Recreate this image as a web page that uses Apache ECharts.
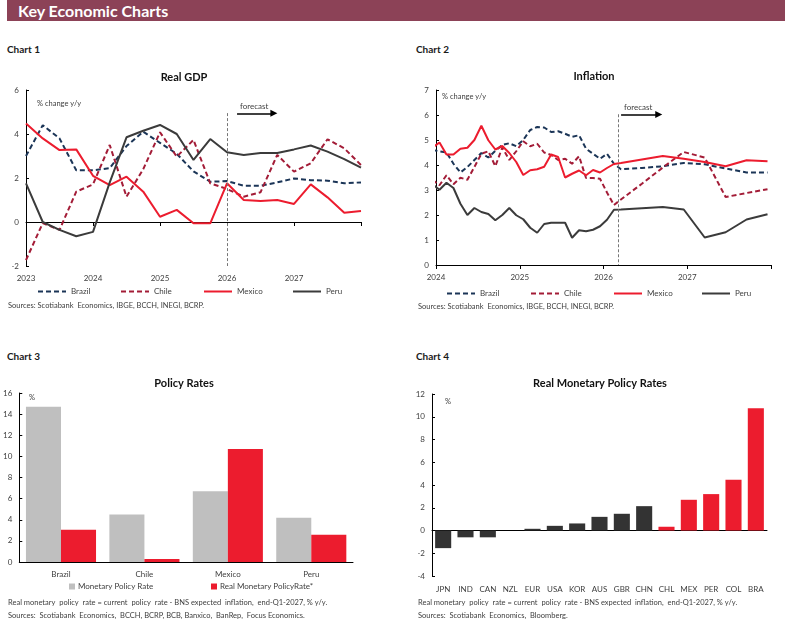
<!DOCTYPE html>
<html lang="en">
<head>
<meta charset="utf-8">
<title>Key Economic Charts</title>
<script src="https://cdn.jsdelivr.net/npm/echarts@6/dist/echarts.min.js"></script>
<style>
  body { margin: 0; background: #fff; }
  #page { position: relative; width: 785px; height: 626px; overflow: hidden; }
  .banner { position: absolute; left: 7px; top: 0; right: 0; height: 21px; background: #8c4257; color: #fff;
    font: bold 16px Lato, sans-serif; line-height: 21px; padding-left: 11px; }
  .chart_no { position: absolute; font: bold 10px Lato, sans-serif; line-height: 12px; color: #1a1a1a; }
  .graph { position: absolute; }
</style>
</head>
<body>
<div id="page">
  <div class="banner">Key Economic Charts</div>
  <div class="chart_no" style="left:7px;top:43px">Chart 1</div>
  <div class="chart_no" style="left:416px;top:43px">Chart 2</div>
  <div class="chart_no" style="left:7px;top:350px">Chart 3</div>
  <div class="chart_no" style="left:416px;top:350px">Chart 4</div>
  <div class="graph" id="chart1" style="left:0;top:60px;width:400px;height:260px"></div>
  <div class="graph" id="chart2" style="left:400px;top:60px;width:385px;height:260px"></div>
  <div class="graph" id="chart3" style="left:0;top:365px;width:400px;height:261px"></div>
  <div class="graph" id="chart4" style="left:400px;top:365px;width:385px;height:261px"></div>
</div>
<script>
var FONT = 'Lato, sans-serif';
var TXT = '#404040';
var NAVY = '#1b3557', DARK_RED = '#a31c37', RED = '#ec1c2e', CHARCOAL = '#3b3b3b', GREY = '#bfbfbf';

// chart 1 - real gdp, % y/y, quarterly
var gdpQuarters = ['2022Q4',
  '2023Q1', '2023Q2', '2023Q3', '2023Q4', '2024Q1', '2024Q2', '2024Q3', '2024Q4',
  '2025Q1', '2025Q2', '2025Q3', '2025Q4', '2026Q1', '2026Q2', '2026Q3', '2026Q4',
  '2027Q1', '2027Q2', '2027Q3', '2027Q4'];
var gdpBrazil = [3.0, 4.4, 3.8, 2.35, 2.35, 2.45, 3.45, 4.1, 3.6, 3.1, 2.3, 1.83, 1.86, 1.65, 1.65, 1.8, 1.98, 1.9, 1.88, 1.76, 1.8];
var gdpChile = [-1.73, -0.05, -0.36, 1.38, 1.71, 3.5, 1.15, 2.4, 4.08, 2.97, 3.73, 1.76, 1.5, 1.15, 1.35, 3.05, 2.29, 2.67, 3.76, 3.35, 2.59];
var gdpMexico = [4.48, 3.8, 3.27, 3.3, 2.1, 1.68, 2.06, 1.38, 0.24, 0.55, -0.06, -0.06, 1.76, 1.0, 0.95, 1.0, 0.82, 1.71, 1.12, 0.42, 0.5];
var gdpPeru = [1.76, 0, -0.36, -0.65, -0.45, 1.8, 3.85, 4.15, 4.41, 4.0, 2.82, 3.77, 3.17, 3.05, 3.14, 3.14, 3.3, 3.48, 3.2, 2.86, 2.47];
var gdpForecastFrom = 2026.0;

// chart 2 - inflation, % y/y, monthly actuals then quarterly forecast
var cpiHistFirst = '2023-12', cpiHistLast = '2026-02';
var cpiForecastMonths = ['2026-03', '2026-06', '2026-09', '2026-12', '2027-03', '2027-06', '2027-09', '2027-12'];
var cpiBrazil = [4.6, 4.55, 4.5, 4.05, 3.7, 3.92, 4.2, 4.48, 4.3, 4.57, 4.8, 4.87, 4.75,
  5.0, 5.4, 5.52, 5.5, 5.32, 5.35, 5.25, 5.13, 5.19, 4.65, 4.45, 4.25, 4.45, 4.05];
var cpiChile = [3.4, 3.19, 3.59, 3.23, 3.49, 3.41, 3.92, 4.45, 4.55, 3.95, 4.7, 4.2, 4.55,
  4.95, 4.75, 4.85, 4.5, 4.4, 4.2, 4.25, 4.05, 4.35, 3.48, 3.48, 3.45, 2.9, 2.4];
var cpiMexico = [4.7, 4.9, 4.42, 4.42, 4.65, 4.69, 5.0, 5.57, 4.99, 4.62, 4.76, 4.48, 4.12,
  3.6, 3.79, 3.83, 3.93, 4.42, 4.32, 3.5, 3.65, 3.78, 3.59, 3.8, 3.7, 3.88, 4.04];
var cpiPeru = [3.23, 3.01, 3.29, 3.08, 2.45, 2.0, 2.28, 2.12, 2.04, 1.79, 2.0, 2.28, 1.99,
  1.83, 1.49, 1.29, 1.64, 1.69, 1.69, 1.69, 1.09, 1.39, 1.35, 1.41, 1.55, 1.81, 2.21];
var cpiBrazilFc = [3.83, 3.88, 3.95, 4.08, 4.03, 3.86, 3.7, 3.7];
var cpiChileFc = [2.62, 3.25, 3.9, 4.52, 4.3, 2.72, 2.88, 3.03];
var cpiMexicoFc = [4.08, 4.22, 4.36, 4.25, 4.12, 3.95, 4.19, 4.15];
var cpiPeruFc = [2.22, 2.27, 2.32, 2.22, 1.1, 1.31, 1.82, 2.03];
var cpiForecastFrom = 2026.175;

// chart 3 - policy rates, %
var rateCountries = ['Brazil', 'Chile', 'Mexico', 'Peru'];
var policyRate = [14.7, 4.5, 6.7, 4.2];
var realPolicyRate = [3.06, 0.28, 10.7, 2.59];

// chart 4 - real monetary policy rates, %
var realCodes = ['JPN', 'IND', 'CAN', 'NZL', 'EUR', 'USA', 'KOR', 'AUS', 'GBR', 'CHN', 'CHL', 'MEX', 'PER', 'COL', 'BRA'];
var realRates = [-1.55, -0.6, -0.6, 0, 0.15, 0.41, 0.62, 1.2, 1.47, 2.14, 0.33, 2.7, 3.2, 4.46, 10.74];
var latamCodes = ['CHL', 'MEX', 'PER', 'COL', 'BRA'];

var graphs = [];

function quarterPos(q) {
  return +q.slice(0, 4) + +q.slice(5) / 4;
}
function monthPos(m) {
  return +m.slice(0, 4) + (+m.slice(5) - 0.5) / 12;
}
function monthsBetween(from, to) {
  var out = [], y = +from.slice(0, 4), m = +from.slice(5);
  var endY = +to.slice(0, 4), endM = +to.slice(5);
  while (y < endY || (y === endY && m <= endM)) {
    out.push(y + '-' + (m < 10 ? '0' + m : m));
    m++;
    if (m > 12) { m = 1; y++; }
  }
  return out;
}

function lineSeries(name, xs, ys, color, dashed) {
  return {
    name: name,
    type: 'line',
    symbol: 'none',
    data: ys.map(function (v, i) { return [xs[i], v]; }),
    lineStyle: { color: color, width: 2, type: dashed ? [5, 3] : 'solid' },
    itemStyle: { color: color },
  };
}

function labelText(x, y, text, opts) {
  opts = opts || {};
  return {
    type: 'text', x: x, y: y, silent: true,
    style: {
      text: text, fill: opts.color || TXT, fontSize: opts.size || 7.5, fontFamily: FONT,
      fontWeight: opts.bold ? 'bold' : 'normal',
      align: opts.align || 'left', verticalAlign: 'middle',
    },
  };
}

function valueY(min, max, step) {
  return {
    type: 'value', min: min, max: max, interval: step,
    axisLine: { show: true, onZero: false, lineStyle: { color: '#000', width: 1 } },
    axisTick: { show: true, inside: true, length: 3, lineStyle: { color: '#000' } },
    splitLine: { show: false },
    axisLabel: { color: TXT, fontSize: 8, fontFamily: FONT, margin: 7 },
  };
}

// x labels sit at the bottom, the axis line itself runs along zero
function yearLabelAxis(min, max) {
  return {
    type: 'value', min: min, max: max, interval: 1, position: 'bottom',
    axisLine: { show: false, onZero: false }, axisTick: { show: false }, splitLine: { show: false },
    axisLabel: {
      color: TXT, fontSize: 8, fontFamily: FONT, margin: 8,
      formatter: function (v) { return v === max ? '' : String(v); },
    },
  };
}
function yearZeroAxis(min, max) {
  return {
    type: 'value', min: min, max: max, interval: 1, position: 'top',
    axisLine: { onZero: true, lineStyle: { color: '#000', width: 1 } },
    axisTick: { inside: true, length: 4, lineStyle: { color: '#000' } },
    axisLabel: { show: false }, splitLine: { show: false },
  };
}

function legendAt(name, left, top, square) {
  var lg = {
    data: [name], left: left, top: top, padding: 0, selectedMode: false,
    itemWidth: square ? 6 : 28, itemHeight: square ? 6 : 10, itemGap: 0,
    textStyle: { color: TXT, fontSize: 8, fontFamily: FONT, padding: [0, 0, 0, square ? -2 : 0] },
  };
  if (square) {
    lg.icon = 'rect';
  } else {
    // line only, no marker in the middle
    lg.itemStyle = { opacity: 0 };
  }
  return lg;
}

function forecastMarks(x, yTop, yBottom, arrowFrom, arrowTo, arrowY) {
  return {
    silent: true, animation: false,
    data: [
      [
        { coord: [x, yTop], symbol: 'none', lineStyle: { color: '#777', width: 1, type: [3, 2] }, label: { show: false } },
        { coord: [x, yBottom], symbol: 'none' },
      ],
      [
        {
          coord: [arrowFrom, arrowY], symbol: 'none', lineStyle: { color: '#000', width: 1.5, type: 'solid' },
          label: { show: true, formatter: 'forecast', position: 'insideStartTop', distance: 3, color: TXT, fontSize: 8, fontFamily: FONT },
        },
        { coord: [arrowTo, arrowY], symbol: 'triangle', symbolSize: 7 },
      ],
    ],
  };
}

function gdpOption() {
  var xs = gdpQuarters.map(quarterPos);
  var peru = lineSeries('Peru', xs, gdpPeru, CHARCOAL, false);
  peru.markLine = forecastMarks(gdpForecastFrom, 4.95, -2, 2026.15, 2026.7, 4.94);
  return {
    animation: false,
    grid: { left: 26, top: 30, width: 335, height: 176 },
    xAxis: [yearLabelAxis(2023, 2028), yearZeroAxis(2023, 2028)],
    yAxis: valueY(-2, 6, 2),
    legend: [
      legendAt('Brazil', 37, 227.5), legendAt('Chile', 120, 227.5),
      legendAt('Mexico', 203, 227.5), legendAt('Peru', 292, 227.5),
    ],
    graphic: [
      labelText(184, 17, 'Real GDP', { size: 11, bold: true, color: '#111', align: 'center' }),
      labelText(37, 44, '% change y/y'),
      labelText(8, 246, 'Sources: Scotiabank  Economics, IBGE, BCCH, INEGI, BCRP.'),
    ],
    series: [
      lineSeries('Brazil', xs, gdpBrazil, NAVY, true),
      lineSeries('Chile', xs, gdpChile, DARK_RED, true),
      lineSeries('Mexico', xs, gdpMexico, RED, false),
      peru,
    ],
  };
}

function inflationOption() {
  var months = monthsBetween(cpiHistFirst, cpiHistLast).concat(cpiForecastMonths);
  var xs = months.map(monthPos);
  var peru = lineSeries('Peru', xs, cpiPeru.concat(cpiPeruFc), CHARCOAL, false);
  peru.markLine = forecastMarks(cpiForecastFrom, 6.03, 0, 2026.21, 2026.66, 6.02);
  var xLine = yearLabelAxis(2024, 2028);
  xLine.axisLine = { show: true, onZero: false, lineStyle: { color: '#000', width: 1 } };
  xLine.axisTick = { show: true, length: 4, lineStyle: { color: '#000' } };
  return {
    animation: false,
    grid: { left: 36, top: 30, width: 335, height: 175 },
    xAxis: xLine,
    yAxis: valueY(0, 7, 1),
    legend: [
      legendAt('Brazil', 46, 229.5), legendAt('Chile', 130, 229.5),
      legendAt('Mexico', 213, 229.5), legendAt('Peru', 301, 229.5),
    ],
    graphic: [
      labelText(194, 16, 'Inflation', { size: 11, bold: true, color: '#111', align: 'center' }),
      labelText(42, 37, '% change y/y'),
      labelText(18, 247, 'Sources: Scotiabank  Economics, IBGE, BCCH, INEGI, BCRP.'),
    ],
    series: [
      lineSeries('Brazil', xs, cpiBrazil.concat(cpiBrazilFc), NAVY, true),
      lineSeries('Chile', xs, cpiChile.concat(cpiChileFc), DARK_RED, true),
      lineSeries('Mexico', xs, cpiMexico.concat(cpiMexicoFc), RED, false),
      peru,
    ],
  };
}

function policyOption() {
  return {
    animation: false,
    grid: { left: 19, top: 28, width: 334, height: 169 },
    xAxis: {
      type: 'category', data: rateCountries,
      axisLine: { lineStyle: { color: '#000', width: 1 } },
      axisTick: { length: 4, lineStyle: { color: '#000' } },
      axisLabel: { color: TXT, fontSize: 8, fontFamily: FONT, margin: 8 },
    },
    yAxis: valueY(0, 16, 2),
    legend: [
      legendAt('Monetary Policy Rate', 69, 217.5, true),
      legendAt('Real Monetary PolicyRate*', 211, 217.5, true),
    ],
    graphic: [
      labelText(184, 18, 'Policy Rates', { size: 11, bold: true, color: '#111', align: 'center' }),
      labelText(29, 33, '%'),
      labelText(8, 238, 'Real monetary  policy  rate = current  policy  rate - BNS expected  inflation,  end-Q1-2027, % y/y.'),
      labelText(8, 251, 'Sources:  Scotiabank  Economics,  BCCH, BCRP, BCB, Banxico,  BanRep,  Focus Economics.'),
    ],
    series: [
      {
        name: 'Monetary Policy Rate', type: 'bar', data: policyRate,
        itemStyle: { color: GREY }, barGap: '0%', barCategoryGap: '16%',
      },
      {
        name: 'Real Monetary PolicyRate*', type: 'bar', data: realPolicyRate,
        itemStyle: { color: RED }, barGap: '0%', barCategoryGap: '16%',
      },
    ],
  };
}

function realRatesOption() {
  return {
    animation: false,
    grid: { left: 32, top: 29, width: 335, height: 182 },
    xAxis: [
      {
        type: 'category', data: realCodes, position: 'bottom',
        axisLine: { show: false, onZero: false }, axisTick: { show: false },
        axisLabel: { color: TXT, fontSize: 8, fontFamily: FONT, margin: 9, interval: 0 },
      },
      {
        type: 'category', data: realCodes, position: 'top',
        axisLine: { onZero: true, lineStyle: { color: '#000', width: 1 } },
        axisTick: { inside: true, length: 3, lineStyle: { color: '#000' } },
        axisLabel: { show: false },
      },
    ],
    yAxis: valueY(-4, 12, 2),
    graphic: [
      labelText(200, 18, 'Real Monetary Policy Rates', { size: 11, bold: true, color: '#111', align: 'center' }),
      labelText(45, 37, '%'),
      labelText(18, 238, 'Real monetary  policy  rate = current  policy  rate - BNS expected  inflation,  end-Q1-2027, % y/y.'),
      labelText(18, 251, 'Sources:  Scotiabank  Economics,  Bloomberg.'),
    ],
    series: [
      {
        name: 'Real policy rate', type: 'bar', data: realRates, barCategoryGap: '28%',
        itemStyle: {
          color: function (p) { return latamCodes.indexOf(p.name) >= 0 ? RED : '#333333'; },
        },
      },
    ],
  };
}

function initCharts() {
  var builders = [gdpOption, inflationOption, policyOption, realRatesOption];
  for (var i = 0; i < builders.length; i++) {
    graphs[i] = echarts.init(document.getElementById('chart' + (i + 1)), null, { renderer: 'canvas' });
    graphs[i].setOption(builders[i]());
  }
}

(function (window) {
  initCharts();
  window.onresize = function () {
    graphs.forEach(function (g) { g.resize(); });
  };
})(window);
</script>
</body>
</html>
